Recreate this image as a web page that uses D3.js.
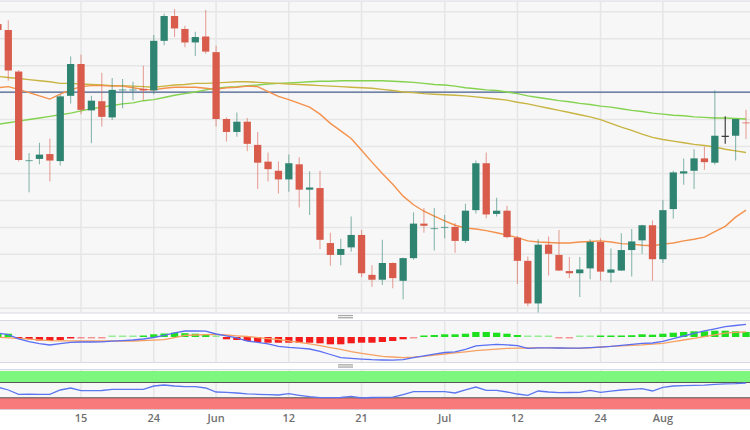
<!DOCTYPE html>
<html>
<head>
<meta charset="utf-8">
<script src="https://cdn.jsdelivr.net/npm/d3@7"></script>
<style>
  body { margin: 0; background: #fff; }
  svg { display: block; font-family: "Open Sans", "DejaVu Sans", sans-serif; }
</style>
</head>
<body>
<div id="container"></div>
<script>
/* CONSTANTS AND GLOBALS */
const width = 750, height = 430;

// trading days, May 3 to Aug 11
const dates = [
  "05-03","05-04","05-05","05-08","05-09","05-10","05-11","05-12","05-15","05-16","05-17","05-18","05-19",
  "05-22","05-23","05-24","05-25","05-26","05-29","05-30","05-31",
  "06-01","06-02","06-05","06-06","06-07","06-08","06-09","06-12","06-13","06-14","06-15","06-16",
  "06-19","06-20","06-21","06-22","06-23","06-26","06-27","06-28","06-29","06-30",
  "07-03","07-04","07-05","07-06","07-07","07-10","07-11","07-12","07-13","07-14","07-17","07-18",
  "07-19","07-20","07-21","07-24","07-25","07-26","07-27","07-28","07-31",
  "08-01","08-02","08-03","08-04","08-07","08-08","08-09","08-10","08-11"
];

const open = [1.3627,1.3616,1.3539,1.3374,1.3377,1.3386,1.3373,1.3494,1.3553,1.3467,1.3484,1.3454,1.3505,
  1.3505,1.3507,1.3504,1.3596,1.3642,1.3618,1.3593,1.3604,1.3575,1.3451,1.3427,1.3446,1.3403,1.3372,1.3355,
  1.3339,1.3367,1.3320,1.3323,1.3221,1.3199,1.3213,1.3236,1.3162,1.3153,1.3184,1.3151,1.3193,1.3257,1.3248,
  1.3250,1.3251,1.3225,1.3282,1.3369,1.3275,1.3281,1.3231,1.3188,1.3109,1.3218,1.3199,1.3169,1.3165,1.3174,
  1.3223,1.3166,1.3170,1.3208,1.3226,1.3254,1.3191,1.3284,1.3350,1.3355,1.3378,1.3370,1.3420,1.3420,1.3445];
const high = [1.3629,1.3634,1.3542,1.3388,1.3407,1.3415,1.3496,1.3567,1.3570,1.3494,1.3537,1.3527,1.3525,
  1.3520,1.3550,1.3607,1.3646,1.3655,1.3624,1.3613,1.3653,1.3587,1.3454,1.3463,1.3453,1.3427,1.3389,1.3372,
  1.3385,1.3380,1.3354,1.3355,1.3240,1.3229,1.3270,1.3245,1.3180,1.3227,1.3185,1.3194,1.3278,1.3286,1.3286,
  1.3273,1.3258,1.3294,1.3374,1.3389,1.3305,1.3290,1.3234,1.3196,1.3228,1.3233,1.3245,1.3195,1.3195,1.3228,
  1.3230,1.3211,1.3239,1.3247,1.3255,1.3263,1.3301,1.3355,1.3378,1.3395,1.3400,1.3504,1.3456,1.3451,1.3468];
const low = [1.3615,1.3522,1.3372,1.3315,1.3367,1.3335,1.3365,1.3480,1.3460,1.3406,1.3437,1.3449,1.3471,
  1.3486,1.3486,1.3497,1.3588,1.3603,1.3584,1.3568,1.3572,1.3437,1.3409,1.3418,1.3391,1.3321,1.3335,1.3313,
  1.3316,1.3287,1.3273,1.3210,1.3179,1.3180,1.3205,1.3158,1.3140,1.3143,1.3137,1.3117,1.3190,1.3240,1.3207,
  1.3230,1.3203,1.3221,1.3276,1.3267,1.3270,1.3230,1.3145,1.3104,1.3092,1.3161,1.3169,1.3156,1.3121,1.3154,
  1.3151,1.3148,1.3169,1.3159,1.3201,1.3151,1.3184,1.3266,1.3329,1.3321,1.3357,1.3366,1.3405,1.3374,1.3414];
const close = [1.3616,1.3541,1.3375,1.3375,1.3385,1.3374,1.3493,1.3553,1.3468,1.3485,1.3455,1.3505,1.3506,
  1.3506,1.3504,1.3596,1.3642,1.3619,1.3593,1.3603,1.3576,1.3451,1.3427,1.3446,1.3405,1.3370,1.3358,1.3339,
  1.3369,1.3320,1.3324,1.3227,1.3199,1.3210,1.3236,1.3165,1.3153,1.3184,1.3156,1.3193,1.3257,1.3253,1.3249,
  1.3251,1.3225,1.3281,1.3369,1.3274,1.3281,1.3232,1.3188,1.3109,1.3218,1.3201,1.3170,1.3165,1.3172,1.3223,
  1.3168,1.3172,1.3208,1.3224,1.3254,1.3191,1.3282,1.3352,1.3354,1.3378,1.3371,1.3420,1.3420,1.3451,1.3444];

// moving averages
const maFast = [1.3509,1.3511,1.3506,1.3500,1.3494,1.3488,1.3497,1.3505,1.3511,1.3513,1.3513,1.3512,1.3512,
  1.3509,1.3506,1.3505,1.3508,1.3510,1.3510,1.3510,1.3508,1.3506,1.3509,1.3510,1.3512,1.3511,1.3502,1.3493,
  1.3487,1.3480,1.3473,1.3460,1.3443,1.3429,1.3415,1.3393,1.3371,1.3350,1.3330,1.3308,1.3292,1.3280,1.3271,
  1.3262,1.3254,1.3249,1.3247,1.3244,1.3240,1.3236,1.3231,1.3225,1.3223,1.3222,1.3221,1.3221,1.3223,1.3224,
  1.3225,1.3223,1.3220,1.3219,1.3217,1.3216,1.3219,1.3221,1.3225,1.3228,1.3232,1.3242,1.3252,1.3269,1.3282];
const maMid = [1.3530,1.3528,1.3526,1.3524,1.3522,1.3520,1.3517,1.3517,1.3516,1.3515,1.3514,1.3513,1.3513,
  1.3512,1.3511,1.3510,1.3512,1.3514,1.3515,1.3517,1.3517,1.3518,1.3519,1.3520,1.3520,1.3519,1.3518,1.3517,
  1.3516,1.3515,1.3514,1.3513,1.3512,1.3511,1.3510,1.3509,1.3508,1.3506,1.3504,1.3501,1.3500,1.3498,1.3497,
  1.3496,1.3495,1.3494,1.3492,1.3490,1.3488,1.3486,1.3482,1.3479,1.3475,1.3471,1.3467,1.3463,1.3459,1.3455,
  1.3450,1.3443,1.3436,1.3430,1.3423,1.3417,1.3413,1.3410,1.3407,1.3404,1.3402,1.3399,1.3395,1.3392,1.3389];
const maSlow = [1.3441,1.3444,1.3447,1.3450,1.3453,1.3456,1.3459,1.3462,1.3466,1.3470,1.3473,1.3476,1.3479,
  1.3481,1.3485,1.3487,1.3491,1.3495,1.3498,1.3501,1.3505,1.3508,1.3510,1.3511,1.3513,1.3514,1.3516,1.3517,
  1.3518,1.3519,1.3520,1.3521,1.3521,1.3522,1.3522,1.3522,1.3522,1.3522,1.3521,1.3520,1.3519,1.3517,1.3515,
  1.3514,1.3512,1.3509,1.3507,1.3505,1.3504,1.3501,1.3498,1.3494,1.3491,1.3488,1.3485,1.3483,1.3480,1.3478,
  1.3475,1.3473,1.3470,1.3467,1.3465,1.3462,1.3460,1.3458,1.3457,1.3455,1.3454,1.3453,1.3453,1.3452,1.3451];
const levelLine = 1.3501;

// MACD panel (pips)
const macd = [4.0,2.3,-1.8,-4.7,-6.6,-8.0,-6.6,-5.4,-5.0,-5.0,-4.9,-4.2,-3.6,-3.0,-2.0,-0.5,1.6,4.2,6.0,6.0,
  5.8,3.0,1.1,-0.9,-4.0,-5.4,-6.8,-9.3,-10.4,-11.2,-12.0,-14.3,-17.5,-20.6,-21.4,-22.1,-22.7,-23.0,-23.2,-22.7,
  -20.6,-18.9,-17.1,-15.5,-14.9,-12.3,-8.9,-8.2,-7.4,-7.9,-8.7,-11.3,-10.9,-10.8,-11.0,-11.2,-11.1,-10.6,-10.1,-9.4,
  -8.3,-7.3,-6.3,-6.0,-4.4,-1.6,1.0,3.6,6.2,8.2,10.4,11.5,12.6];
const signal = [-0.2,-0.8,-1.4,-2.2,-2.9,-3.7,-3.8,-3.9,-4.0,-4.0,-4.0,-4.0,-4.0,-4.0,-3.7,-3.2,-2.6,-0.6,1.6,2.0,
  2.3,2.7,2.0,1.2,0.5,-0.6,-1.6,-2.5,-3.8,-5.4,-6.9,-8.6,-10.6,-12.4,-14.7,-16.3,-17.8,-19.3,-20.0,-20.6,
  -20.2,-19.3,-18.0,-17.0,-15.9,-14.8,-13.6,-12.8,-12.1,-11.4,-11.2,-11.0,-10.8,-10.8,-11.0,-11.2,-11.3,-10.9,-10.0,-9.4,
  -8.9,-8.4,-7.9,-7.1,-6.3,-4.7,-3.0,-1.3,0.4,2.1,3.8,4.6,5.1];
const hist = [4,3.3,-1,-2,-3.5,-4,-3,-1.5,-0.8,-0.5,-0.3,0.3,0.5,0.8,1.5,2.7,3.5,4.3,3.8,3.3,
  2.5,0.5,-2.3,-3,-4,-5,-5.7,-5.7,-5.7,-5.7,-5.7,-6.3,-7.3,-7.3,-6.3,-5.7,-5.7,-5,-4,-2.3,
  -0.5,1,2,2.7,2.7,3.3,5,5,4.3,3.3,2,0.3,0.3,0.5,-0.3,-0.3,0.3,0.8,1,1.2,
  1.5,1.8,2.7,2.3,3.3,4.3,5,5.7,5.7,6.3,6.3,5.7,5];

// RSI panel
const rsi = [57.7,50.4,39.2,39.5,39.0,39.2,50.4,55.6,48.6,48.6,49.1,52.2,52.2,52.2,52.2,60.8,63.4,60.8,59.0,59.0,
  55.6,45.2,44.1,42.6,40.5,39.2,38.1,37.3,40.7,36.6,32.9,30.3,30.3,30.8,33.9,29.5,30.8,31.3,31.6,38.6,
  46.0,46.0,46.0,46.0,42.6,50.4,58.2,49.6,49.6,45.2,39.9,36.6,47.8,45.2,43.3,43.9,44.4,49.6,44.4,47.3,
  50.4,52.0,53.8,47.8,57.4,60.8,61.6,62.4,63.2,65.3,66.3,67.1,68.7];

const tickDates = ["05-15","05-24","06-01","06-12","06-21","07-03","07-12","07-24","08-01"];
const tickLabels = ["15","24","Jun","12","21","Jul","12","24","Aug"];

const upColor = "#2f8471", downColor = "#d85b4b", flatColor = "#333";
const panel = {
  main: { top: 1, bottom: 313 },
  macd: { top: 320.5, bottom: 362.5 },
  rsi: { top: 369.5, bottom: 409.5 }
};

/* SCALES */
const xScale = d3.scaleBand()
  .domain(dates)
  .range([-7.3, 751.2])
  .paddingInner(0.3)
  .paddingOuter(0.15);
const cx = d => xScale(d) + xScale.bandwidth() / 2;

const yScale = d3.scaleLinear().domain([1.3100, 1.3650]).range([308.3, 11.7]);
const macdY = d3.scaleLinear().domain([-25.3, 16.3]).range([362.3, 320.7]);
const rsiY = d3.scaleLinear().domain([0, 100]).range([409.3, 371]);

const svg = d3.select("#container")
  .append("svg")
  .attr("width", width)
  .attr("height", height);

// panel backgrounds + clip paths
Object.entries(panel).forEach(([key, p]) => {
  svg.append("clipPath").attr("id", "clip-" + key)
    .append("rect").attr("x", 0).attr("y", p.top).attr("width", width).attr("height", p.bottom - p.top);
  svg.append("rect")
    .attr("x", -1).attr("y", p.top).attr("width", width + 2).attr("height", p.bottom - p.top)
    .attr("fill", "#f7f7f7")
    .attr("stroke", "#d6d9e4");
  // vertical grid
  svg.append("g").attr("clip-path", `url(#clip-${key})`)
    .selectAll("line").data(tickDates).join("line")
    .attr("x1", d => cx(d)).attr("x2", d => cx(d))
    .attr("y1", p.top).attr("y2", p.bottom)
    .attr("stroke", "#e6e6e6").attr("stroke-width", 1.5);
});

/* MAIN PANEL */
const main = svg.append("g").attr("clip-path", "url(#clip-main)");

main.selectAll("line.hgrid")
  .data(yScale.ticks(12))
  .join("line")
  .attr("class", "hgrid")
  .attr("x1", 0).attr("x2", width)
  .attr("y1", d => yScale(d)).attr("y2", d => yScale(d))
  .attr("stroke", "#e6e6e6").attr("stroke-width", 1.5);

main.append("line")
  .attr("x1", 0).attr("x2", width)
  .attr("y1", yScale(levelLine)).attr("y2", yScale(levelLine))
  .attr("stroke", "#4a6392").attr("stroke-width", 1.3);

const maLine = arr => d3.line()
  .x((d, i) => cx(dates[i]))
  .y(d => yScale(d))(arr);

[[maSlow, "#84d24e"], [maMid, "#c8b440"], [maFast, "#f4914c"]].forEach(([arr, col]) => {
  main.append("path")
    .attr("d", maLine(arr))
    .attr("fill", "none")
    .attr("stroke", col)
    .attr("stroke-width", 1.4);
});

const candles = dates.map((d, i) => ({ d, o: open[i], h: high[i], l: low[i], c: close[i] }));
const candleColor = k => k.c > k.o ? upColor : (k.c < k.o ? downColor : flatColor);

main.selectAll("line.wick")
  .data(candles)
  .join("line")
  .attr("class", "wick")
  .attr("x1", k => cx(k.d)).attr("x2", k => cx(k.d))
  .attr("y1", k => yScale(k.h)).attr("y2", k => yScale(k.l))
  .attr("stroke", candleColor)
  .attr("stroke-opacity", k => k.c === k.o ? 1 : 0.55)
  .attr("stroke-width", 1.1);

main.selectAll("rect.body")
  .data(candles)
  .join("rect")
  .attr("class", "body")
  .attr("x", k => xScale(k.d))
  .attr("width", xScale.bandwidth())
  .attr("y", k => yScale(Math.max(k.o, k.c)))
  .attr("height", k => Math.max(1.2, Math.abs(yScale(k.o) - yScale(k.c))))
  .attr("fill", candleColor)
  .attr("fill-opacity", k => Math.abs(yScale(k.o) - yScale(k.c)) < 1.5 && k.c !== k.o ? 0.6 : 1);

/* MACD PANEL */
const macdG = svg.append("g").attr("clip-path", "url(#clip-macd)");

macdG.selectAll("rect.hist")
  .data(hist)
  .join("rect")
  .attr("class", "hist")
  .attr("x", (h, i) => xScale(dates[i]))
  .attr("width", xScale.bandwidth())
  .attr("y", h => h >= 0 ? macdY(0) - Math.max(1.5, macdY(0) - macdY(h)) : macdY(0))
  .attr("height", h => Math.max(1.5, Math.abs(macdY(0) - macdY(h))))
  .attr("fill", h => h >= 0 ? "#1fe01f" : "#f31b1b")
  .attr("fill-opacity", h => Math.abs(h) < 1 ? 0.45 : 1);

const macdLine = arr => d3.line().x((d, i) => cx(dates[i])).y(d => macdY(d))(arr);
macdG.append("path").attr("d", macdLine(signal))
  .attr("fill", "none").attr("stroke", "#f6a062").attr("stroke-width", 1.3);
macdG.append("path").attr("d", macdLine(macd))
  .attr("fill", "none").attr("stroke", "#5a6ff2").attr("stroke-width", 1.3);

/* RSI PANEL */
const rsiG = svg.append("g").attr("clip-path", "url(#clip-rsi)");

rsiG.append("rect")
  .attr("x", 0).attr("width", width)
  .attr("y", rsiY(100)).attr("height", rsiY(70) - rsiY(100))
  .attr("fill", "#7df77d");
rsiG.append("rect")
  .attr("x", 0).attr("width", width)
  .attr("y", rsiY(30)).attr("height", rsiY(0) - rsiY(30))
  .attr("fill", "#f87a7a");
rsiG.selectAll("line.lvl")
  .data([70, 30])
  .join("line")
  .attr("class", "lvl")
  .attr("x1", 0).attr("x2", width)
  .attr("y1", d => rsiY(d)).attr("y2", d => rsiY(d))
  .attr("stroke", "#555").attr("stroke-width", 1);

rsiG.append("path")
  .attr("d", d3.line().x((d, i) => cx(dates[i])).y(d => rsiY(d))(rsi))
  .attr("fill", "none").attr("stroke", "#5b77ef").attr("stroke-width", 1.3);

/* PANEL HANDLES */
[316.5, 365.8].forEach(y => {
  svg.append("rect").attr("x", 338).attr("y", y - 1.6).attr("width", 15).attr("height", 1.3).attr("fill", "#a8a8a8");
  svg.append("rect").attr("x", 338).attr("y", y + 0.6).attr("width", 15).attr("height", 1.3).attr("fill", "#a8a8a8");
});

/* X AXIS */
const xAxis = d3.axisBottom(xScale)
  .tickValues(tickDates)
  .tickSize(0)
  .tickPadding(0)
  .tickFormat(d => tickLabels[tickDates.indexOf(d)]);

svg.append("g")
  .attr("transform", "translate(0, 414)")
  .call(xAxis)
  .call(g => g.select(".domain").remove())
  .selectAll(".tick text")
  .attr("font-size", "11px")
  .attr("font-weight", 600)
  .attr("fill", "#707070")
  .attr("font-family", "\"Open Sans\", sans-serif");
</script>
</body>
</html>
